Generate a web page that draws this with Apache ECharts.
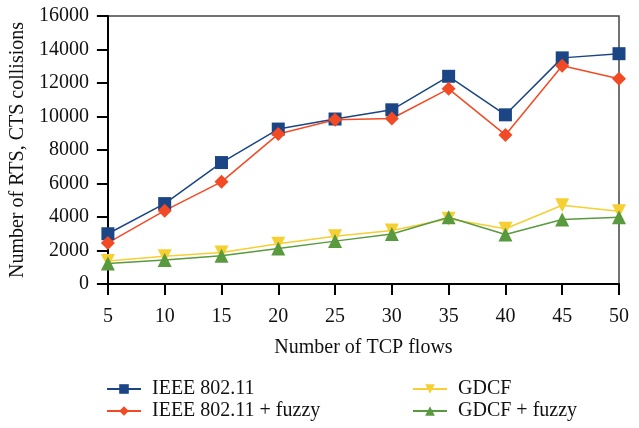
<!DOCTYPE html>
<html>
<head>
<meta charset="utf-8">
<script src="https://cdn.jsdelivr.net/npm/echarts@6/dist/echarts.min.js"></script>
<style>
  html, body { margin: 0; padding: 0; background: #fff; }
  #chart { width: 639px; height: 428px; }
</style>
</head>
<body>
<div id="chart"></div>
<script>
var flows = ['5', '10', '15', '20', '25', '30', '35', '40', '45', '50'];
var ieee = [3000, 4800, 7250, 9250, 9850, 10400, 12400, 10100, 13500, 13750];
var ieeeFuzzy = [2450, 4380, 6100, 8950, 9800, 9880, 11650, 8900, 13030, 12250];
var gdcf = [1380, 1650, 1880, 2400, 2850, 3200, 3900, 3300, 4700, 4350];
var gdcfFuzzy = [1230, 1430, 1690, 2120, 2560, 2980, 3990, 2960, 3850, 3990];

var font = 'Liberation Serif';

function line(name, data, color, symbol, size, rotate) {
    return {
        name: name,
        type: 'line',
        data: data,
        symbol: symbol,
        symbolSize: size,
        symbolRotate: rotate || 0,
        itemStyle: { color: color },
        lineStyle: { color: color, width: 1.5 },
        animation: false
    };
}

var legendText = { fontFamily: font, fontSize: 20, color: '#111', padding: [0, 0, 0, 6] };

var myChart = echarts.init(document.getElementById('chart'));
var option = {
    textStyle: { fontFamily: font },
    grid: {
        left: 106, right: 20, top: 16, bottom: 144,
        show: true, borderColor: '#444', borderWidth: 1.5
    },
    legend: [
        {
            left: 106, top: 379, orient: 'vertical', itemGap: 2, padding: 0,
            itemWidth: 34, itemHeight: 12,
            textStyle: legendText,
            data: ['IEEE 802.11', 'IEEE 802.11 + fuzzy']
        },
        {
            left: 412, top: 379, orient: 'vertical', itemGap: 2, padding: 0,
            itemWidth: 34, itemHeight: 12,
            textStyle: legendText,
            data: ['GDCF', 'GDCF + fuzzy']
        }
    ],
    xAxis: {
        type: 'category',
        data: flows,
        boundaryGap: false,
        name: 'Number of TCP flows',
        nameLocation: 'middle',
        nameGap: 54,
        nameTextStyle: { fontFamily: font, fontSize: 20, color: '#111' },
        axisLine: { lineStyle: { color: '#000', width: 2 } },
        axisTick: { length: 11, lineStyle: { color: '#000', width: 2 }, alignWithLabel: true },
        axisLabel: { fontFamily: font, fontSize: 20, color: '#111', margin: 23 },
        splitLine: { show: false }
    },
    yAxis: {
        type: 'value',
        min: 0, max: 16000, interval: 2000,
        name: 'Number of RTS, CTS collisions',
        nameLocation: 'middle',
        nameGap: 72,
        nameTextStyle: { fontFamily: font, fontSize: 20, color: '#111' },
        axisLine: { show: true, lineStyle: { color: '#000', width: 2 } },
        axisTick: { show: true, length: 11, lineStyle: { color: '#000', width: 2 } },
        axisLabel: {
            fontFamily: font, fontSize: 20, color: '#111', margin: 19,
            formatter: function (v) { return String(v); }
        },
        splitLine: { show: false }
    },
    series: [
        line('IEEE 802.11', ieee, '#1b4585', 'rect', 13),
        line('IEEE 802.11 + fuzzy', ieeeFuzzy, '#f24a25', 'diamond', 14),
        line('GDCF', gdcf, '#f6cf32', 'triangle', 14, 180),
        line('GDCF + fuzzy', gdcfFuzzy, '#5a9a3e', 'triangle', 14)
    ]
};
myChart.setOption(option);
</script>
</body>
</html>
